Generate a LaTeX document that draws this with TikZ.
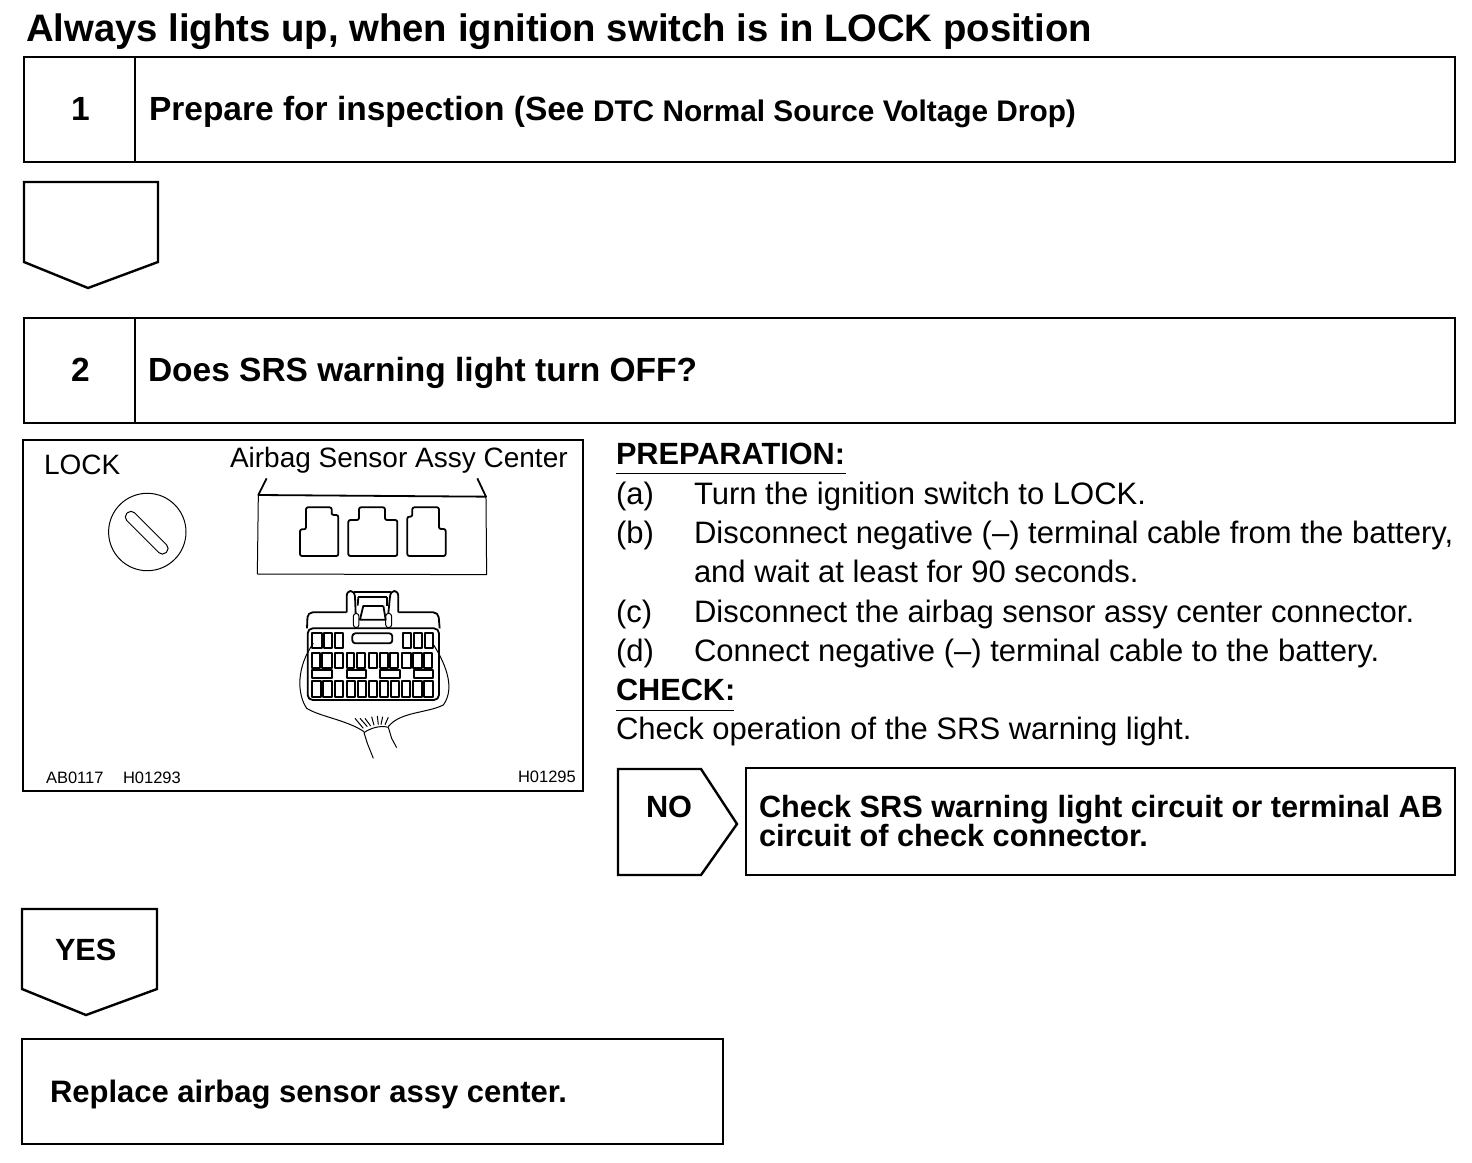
\documentclass[tikz,border=0pt]{standalone}
\usepackage{fontspec}
\setmainfont{Liberation Sans}
\newcommand{\fsz}[1]{\fontsize{#1}{#1}\selectfont}
\tikzset{
  x=1pt,y=-1pt,
  box/.style={draw=black,line width=2.4pt,rectangle,inner sep=0pt,outer sep=0pt,anchor=north west},
  outline/.style={draw=black,line width=2.4pt,line join=miter},
  txt/.style={anchor=base west,inner sep=0pt,outer sep=0pt,text=black},
  head/.style={txt,font=\bfseries\fsz{38.3}},
  bold/.style={txt,font=\bfseries\fsz{33.5}},
  boldb/.style={txt,font=\bfseries\fsz{30.7}},
  boldc/.style={txt,font=\bfseries\fsz{31}},
  mid/.style={txt,font=\bfseries\fsz{29.8}},
  body/.style={txt,font=\fsz{31}},
  label/.style={txt,font=\fsz{28}},
  small/.style={txt,font=\fsz{16.5}},
  thin/.style={draw=black,line width=1pt,line join=round},
  med/.style={draw=black,line width=1.8pt,line join=round},
}
\begin{document}
\begin{tikzpicture}
\useasboundingbox (0,0) rectangle (1472,1162);
\node[head] (title) at (26,41) {Always lights up, when ignition switch is in LOCK position};
% step 1
\node[box,minimum width=1431pt,minimum height=105pt] (b1) at (24,57) {};
\draw[outline] (135,57) -- (135,162);
\node[bold] (n1) at (71,120) {1};
\node[bold] (t1) at (149,120) {Prepare for inspection (See};
\node[mid] (t1b) at (593,121) {DTC Normal Source Voltage Drop)};
\draw[outline] (24,182) -- (158,182) -- (158,262) -- (88,288) -- (24,262) -- cycle;
% step 2
\node[box,minimum width=1431pt,minimum height=105pt] (b2) at (24,318) {};
\draw[outline] (135,318) -- (135,423);
\node[bold] (n2) at (71,381) {2};
\node[bold] (t2) at (148,381) {Does SRS warning light turn OFF?};
% figure
\node[box,minimum width=560pt,minimum height=351pt] (fig) at (23,440) {};
\node[label] (lock) at (44,474) {LOCK};
\node[label] (abs) at (230,467) {Airbag Sensor Assy Center};
\node[small] (c1) at (46,783) {AB0117};
\node[small] (c2) at (123,783) {H01293};
\node[small] (c3) at (518,782) {H01295};
% key
\draw[thin] (147.3,532) circle (38.7pt);
\draw[thin,rounded corners=5pt,rotate around={-45:(146.7,532.7)}] (119,527.2) rectangle (174.4,538.2);
% fuse block drawing
\begin{scope}[shift={(250,470)},x=0.3333pt,y=-0.3333pt]
  \draw[med] (50,25) -- (25,75) -- (708,80) -- (682,25);
  \draw[thin] (25,75) -- (22,312) -- (710,314) -- (708,80);
  \draw[med,rounded corners=2pt] (168,112) -- (245,112) -- (245,135) -- (265,135) -- (265,258) -- (150,258) -- (150,178) -- (168,178) -- cycle;
  \draw[med,rounded corners=2pt] (327,112) -- (405,112) -- (405,150) -- (442,150) -- (442,258) -- (295,258) -- (295,150) -- (327,150) -- cycle;
  \draw[med,rounded corners=2pt] (487,112) -- (567,112) -- (567,177) -- (587,177) -- (587,258) -- (472,258) -- (472,140) -- (487,140) -- cycle;
\end{scope}
% connector
\begin{scope}[shift={(295,585)},x=0.3333pt,y=-0.3333pt]
  \draw[med,rounded corners=5pt] (36,130) -- (38,82) -- (155,82);
  \draw[med,rounded corners=5pt] (310,82) -- (430,82) -- (434,130);
  \draw[med,rounded corners=5pt] (38,130) -- (38,345) -- (432,345) -- (432,130) -- cycle;
  \draw[med] (155,82) -- (155,35) .. controls (155,12) and (178,12) .. (180,35) -- (182,85);
  \draw[med] (310,82) -- (310,35) .. controls (310,12) and (287,12) .. (285,35) -- (280,85);
  \draw[med] (178,22) -- (288,22);
  \draw[med] (190,36) -- (275,36);
  \draw[med] (190,36) -- (188,62);
  \draw[med] (275,36) -- (275,62);
  \draw[med] (205,62) -- (265,62);
  \draw[med] (205,62) -- (195,104) -- (272,104) -- (265,62);
  \draw[thin,rounded corners=3pt] (175,85) rectangle (192,128);
  \draw[thin,rounded corners=3pt] (272,85) rectangle (290,128);
  \foreach \xa/\xb in {52/80,88/110,120/143,325/347,357/380,390/415}
    \draw[med] (\xa,145) rectangle (\xb,190);
  \draw[med,rounded corners=3pt] (172,145) rectangle (292,175);
  \foreach \xa/\xb in {50/75,82/110,120/145,155/178,185/210,222/245,255/278,285/310,322/347,355/380,388/412}
    \draw[med] (\xa,203) rectangle (\xb,248);
  \foreach \xa/\xb in {52/110,155/212,255/315,357/415}
    \draw[med] (\xa,255) rectangle (\xb,278);
  \foreach \xa/\xb in {50/78,85/110,120/145,155/180,188/213,222/245,255/280,288/312,322/345,355/380,388/413}
    \draw[med] (\xa,288) rectangle (\xb,335);
\end{scope}
% wires
\begin{scope}[shift={(280,580)},x=0.3333pt,y=-0.3333pt]
  \draw[thin] (100,190) .. controls (50,260) and (50,340) .. (80,385) .. controls (120,410) and (200,420) .. (252,455);
  \draw[thin] (458,190) .. controls (490,240) and (530,320) .. (490,375) .. controls (440,400) and (360,395) .. (325,440);
  \draw[thin] (252,458) .. controls (270,445) and (300,435) .. (325,442);
  \foreach \xa/\ya/\xb/\yb in {225/415/250/445,240/415/262/440,255/415/272/438,275/410/282/436,292/408/295/434,308/410/303/434,325/412/315/434}
    \draw[thin] (\xa,\ya) -- (\xb,\yb);
  \draw[thin] (252,458) -- (262,490) -- (280,535);
  \draw[thin] (325,442) -- (335,475) -- (350,503);
\end{scope}
% preparation text
\node[boldb] (prep) at (616,464) {PREPARATION:};
\draw[thin] (prep.base west)++(0,9) -- ++(230,0);
\node[body] (la) at (616,504) {(a)};
\node[body] (ta) at (694,504) {Turn the ignition switch to LOCK.};
\node[body] (lb) at (616,543) {(b)};
\node[body] (tb) at (694,543) {Disconnect negative (–) terminal cable from the battery,};
\node[body] (tb2) at (694,582) {and wait at least for 90 seconds.};
\node[body] (lc) at (616,622) {(c)};
\node[body] (tc) at (694,622) {Disconnect the airbag sensor assy center connector.};
\node[body] (ld) at (616,661) {(d)};
\node[body] (td) at (694,661) {Connect negative (–) terminal cable to the battery.};
\node[boldb] (chk) at (616,700) {CHECK:};
\draw[thin] (chk.base west)++(0,10) -- ++(118,0);
\node[body] (tchk) at (616,739) {Check operation of the SRS warning light.};
% NO
\draw[outline] (618,769) -- (701,769) -- (737,824) -- (701,875) -- (618,875) -- cycle;
\node[boldb] (no) at (646,817) {NO};
\node[box,minimum width=709pt,minimum height=107pt] (nobox) at (746,768) {};
\node[boldb] (not1) at (759,817) {Check SRS warning light circuit or terminal AB};
\node[boldb] (not2) at (759,846) {circuit of check connector.};
% YES
\draw[outline] (22,909) -- (157,909) -- (157,989) -- (86,1015) -- (22,989) -- cycle;
\node[boldb] (yes) at (55,960) {YES};
\node[box,minimum width=701pt,minimum height=105pt] (rep) at (22,1039) {};
\node[boldc] (rept) at (50,1102) {Replace airbag sensor assy center.};
\end{tikzpicture}
\end{document}
